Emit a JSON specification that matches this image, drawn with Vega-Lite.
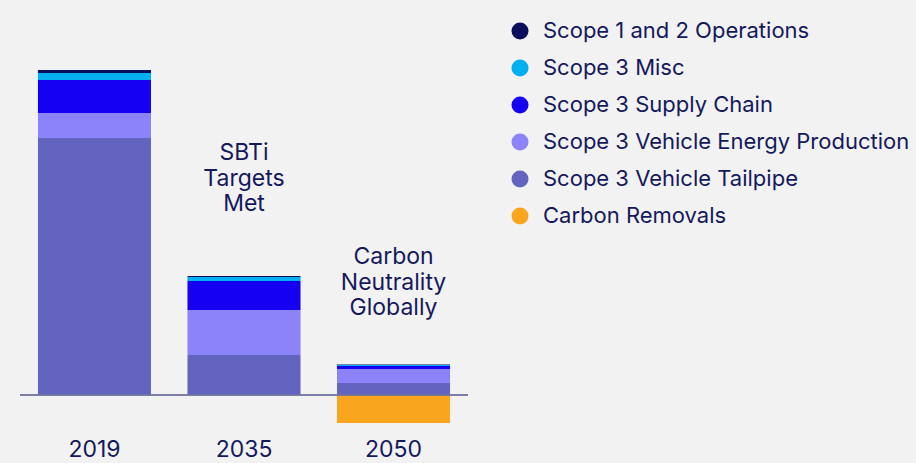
{
  "$schema": "https://vega.github.io/schema/vega-lite/v6.json",
  "autosize": {"type": "none"},
  "padding": {"left": 20, "top": 60, "right": 448, "bottom": 33},
  "width": 448,
  "height": 370,
  "background": "#f2f2f2",
  "config": {
    "view": {"stroke": null},
    "font": "Inter",
    "text": {"font": "Inter"}
  },
  "datasets": {
    "bars": [
      {"year": "2019", "source": "Scope 3 Vehicle Tailpipe", "k": 1, "value": 257},
      {"year": "2019", "source": "Scope 3 Vehicle Energy Production", "k": 2, "value": 25},
      {"year": "2019", "source": "Scope 3 Supply Chain", "k": 3, "value": 33},
      {"year": "2019", "source": "Scope 3 Misc", "k": 4, "value": 7},
      {"year": "2019", "source": "Scope 1 and 2 Operations", "k": 5, "value": 3},
      {"year": "2035", "source": "Scope 3 Vehicle Tailpipe", "k": 1, "value": 40},
      {"year": "2035", "source": "Scope 3 Vehicle Energy Production", "k": 2, "value": 45},
      {"year": "2035", "source": "Scope 3 Supply Chain", "k": 3, "value": 29},
      {"year": "2035", "source": "Scope 3 Misc", "k": 4, "value": 4},
      {"year": "2035", "source": "Scope 1 and 2 Operations", "k": 5, "value": 1},
      {"year": "2050", "source": "Scope 3 Vehicle Tailpipe", "k": 1, "value": 12},
      {"year": "2050", "source": "Scope 3 Vehicle Energy Production", "k": 2, "value": 14},
      {"year": "2050", "source": "Scope 3 Supply Chain", "k": 3, "value": 3},
      {"year": "2050", "source": "Scope 3 Misc", "k": 4, "value": 1},
      {"year": "2050", "source": "Scope 1 and 2 Operations", "k": 5, "value": 0.4},
      {"year": "2050", "source": "Carbon Removals", "k": 0, "value": -28}
    ],
    "notes": [
      {"year": "2035", "label": "SBTi\nTargets\nMet", "y": 253},
      {"year": "2050", "label": "Carbon\nNeutrality\nGlobally", "y": 149}
    ]
  },
  "layer": [
    {
      "data": {"name": "bars"},
      "mark": {"type": "bar"},
      "encoding": {
        "x": {
          "field": "year", "type": "nominal",
          "scale": {"paddingInner": 0.244, "paddingOuter": 0.12},
          "axis": {"title": null, "domain": false, "ticks": false, "labelAngle": 0, "labelPadding": 8, "labelFontSize": 23, "labelColor": "#14195c", "labelFont": "Inter"}
        },
        "y": {
          "field": "value", "type": "quantitative", "stack": "zero",
          "scale": {"domain": [-35, 335], "nice": false, "zero": false},
          "axis": null
        },
        "color": {
          "field": "source", "type": "nominal",
          "scale": {
            "domain": ["Scope 1 and 2 Operations", "Scope 3 Misc", "Scope 3 Supply Chain", "Scope 3 Vehicle Energy Production", "Scope 3 Vehicle Tailpipe", "Carbon Removals"],
            "range": ["#0b0e5c", "#00b0f0", "#1600f2", "#8c82fa", "#6364c0", "#f9a61e"]
          },
          "legend": {
            "title": null, "orient": "none", "legendX": 489, "legendY": -40,
            "symbolType": "circle", "symbolSize": 290, "symbolStrokeWidth": 0,
            "labelFontSize": 22, "labelColor": "#14195c", "labelFont": "Inter",
            "labelOffset": 12, "rowPadding": 15, "labelLimit": 500
          }
        },
        "order": {"field": "k", "type": "quantitative"}
      }
    },
    {
      "data": {"values": [{"v": 0}]},
      "mark": {"type": "rule", "color": "#6e719e", "strokeWidth": 2, "opacity": 0.9},
      "encoding": {"y": {"field": "v", "type": "quantitative"}}
    },
    {
      "data": {"name": "notes"},
      "mark": {"type": "text", "fontSize": 23, "color": "#14195c", "baseline": "top", "align": "center", "lineHeight": 25.5, "lineBreak": "\n"},
      "encoding": {
        "x": {"field": "year", "type": "nominal"},
        "y": {"field": "y", "type": "quantitative"},
        "text": {"field": "label"}
      }
    }
  ]
}
